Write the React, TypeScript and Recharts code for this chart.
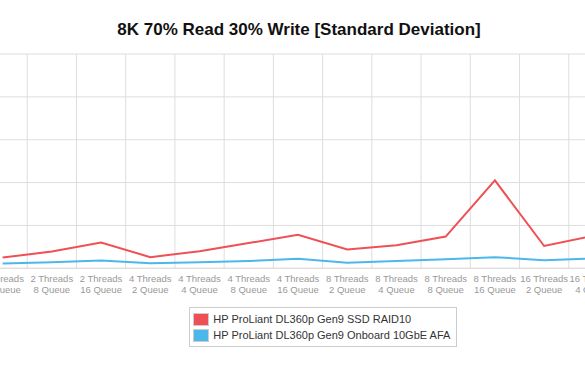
import { CartesianGrid, Line, LineChart, XAxis, YAxis } from 'recharts'

const categories = [
  ['2 Threads', '4 Queue'],
  ['2 Threads', '8 Queue'],
  ['2 Threads', '16 Queue'],
  ['4 Threads', '2 Queue'],
  ['4 Threads', '4 Queue'],
  ['4 Threads', '8 Queue'],
  ['4 Threads', '16 Queue'],
  ['8 Threads', '2 Queue'],
  ['8 Threads', '4 Queue'],
  ['8 Threads', '8 Queue'],
  ['8 Threads', '16 Queue'],
  ['16 Threads', '2 Queue'],
  ['16 Threads', '4 Queue'],
]

const ssdRaid10 = [0.25, 0.39, 0.6, 0.26, 0.4, 0.59, 0.78, 0.44, 0.54, 0.74, 2.05, 0.52, 0.76]
const onboardAfa = [0.11, 0.14, 0.18, 0.12, 0.14, 0.17, 0.22, 0.13, 0.17, 0.21, 0.26, 0.19, 0.23]

const seriesNames = ['HP ProLiant DL360p Gen9 SSD RAID10', 'HP ProLiant DL360p Gen9 Onboard 10GbE AFA']
const seriesColors = ['#EF5055', '#4BB8EC']
const yTicks = [0, 1, 2, 3, 4, 5]

const data = categories.map((c, i) => ({
  name: c.join(' '),
  ssd: ssdRaid10[i],
  afa: onboardAfa[i],
}))

const CHART_W = 640
const FONT = '"Liberation Sans", Arial, Helvetica, sans-serif'

function TwoLineTick(props: any) {
  const { x, y, index } = props
  const [l1, l2] = categories[index] || ['', '']
  return (
    <text x={x} y={y + 5.5} textAnchor="middle" fill="#999" fontSize={9.5} fontFamily={FONT}>
      <tspan x={x}>{l1}</tspan>
      <tspan x={x} dy={11.6}>{l2}</tspan>
    </text>
  )
}

export default function App() {
  const n = categories.length
  const band = CHART_W / n

  return (
    <div style={{ position: 'fixed', left: 0, top: 0, width: 585, height: 378, overflow: 'hidden', background: '#fff', fontFamily: FONT }}>
      <div style={{ position: 'absolute', left: 0, width: 598, top: 21, textAlign: 'center', fontSize: 17, lineHeight: '17px', fontWeight: 'bold', color: '#111' }}>
        8K 70% Read 30% Write [Standard Deviation]
      </div>
      <div style={{ position: 'absolute', left: -21.9, top: 0 }}>
        <LineChart width={CHART_W} height={378} data={data} margin={{ top: 54, right: 0, left: 0, bottom: 69.7 }}>
          <CartesianGrid
            stroke="#ddd"
            verticalCoordinatesGenerator={({ offset }: any) => {
              const left = offset?.left ?? 0
              return Array.from({ length: n + 1 }, (_, k) => left + k * band)
            }}
          />
          <XAxis
            dataKey="name"
            interval={0}
            height={40}
            tickLine={false}
            axisLine={{ stroke: '#ddd' }}
            padding={{ left: band / 2, right: band / 2 }}
            tick={<TwoLineTick />}
          />
          <YAxis hide domain={[0, 5]} ticks={yTicks} />
          <Line type="linear" dataKey="ssd" name={seriesNames[0]} stroke={seriesColors[0]} strokeWidth={2} dot={false} isAnimationActive={false} />
          <Line type="linear" dataKey="afa" name={seriesNames[1]} stroke={seriesColors[1]} strokeWidth={2} dot={false} isAnimationActive={false} />
        </LineChart>
      </div>
      <div style={{ position: 'absolute', left: 189.3, top: 307, width: 263, padding: '3px 0 3px 3px', border: '1px solid #ccc', fontSize: 11, color: '#333' }}>
        {seriesNames.map((s, i) => (
          <div key={s} style={{ display: 'flex', alignItems: 'center', height: 16 }}>
            <span style={{ width: 14, height: 11, background: seriesColors[i], border: '1px solid #ccc', marginRight: 4 }} />
            <span style={{ whiteSpace: 'nowrap' }}>{s}</span>
          </div>
        ))}
      </div>
    </div>
  )
}
